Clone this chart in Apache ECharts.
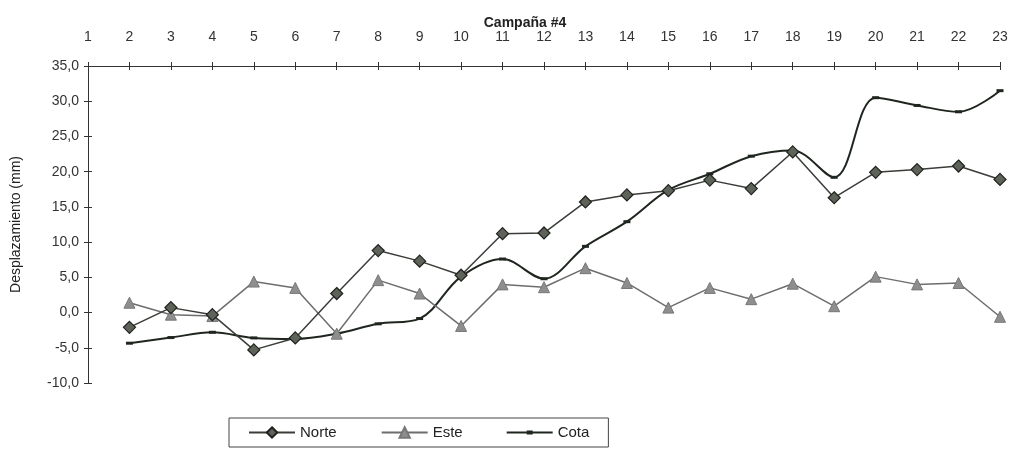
<!DOCTYPE html>
<html>
<head>
<meta charset="utf-8">
<script src="https://cdn.jsdelivr.net/npm/echarts@6/dist/echarts.min.js"></script>
<style>
  html, body { margin: 0; padding: 0; background: #ffffff; }
  #chart { width: 1016px; height: 449px; }
</style>
</head>
<body>
<div id="chart"></div>
<script>
const categories = ['1','2','3','4','5','6','7','8','9','10','11','12','13','14','15','16','17','18','19','20','21','22','23'];
const norte = [null, -2.1, 0.7, -0.3, -5.3, -3.6, 2.7, 8.8, 7.3, 5.3, 11.2, 11.3, 15.7, 16.7, 17.3, 18.8, 17.6, 22.8, 16.3, 19.9, 20.3, 20.8, 18.9];
const este = [null, 1.4, -0.3, -0.5, 4.4, 3.5, -3.0, 4.6, 2.7, -1.9, 4.0, 3.6, 6.3, 4.2, 0.7, 3.5, 1.9, 4.1, 0.9, 5.1, 4.0, 4.2, -0.6];
const cota = [null, -4.35, -3.55, -2.8, -3.6, -3.75, -3.0, -1.6, -0.85, 5.1, 7.6, 4.8, 9.4, 12.9, 17.4, 19.7, 22.2, 23.0, 19.2, 30.5, 29.4, 28.5, 31.5];
const yTitle = 'Desplazamiento (mm)';
const xTitle = 'Campaña #4';

const FONT = '"Liberation Sans", Arial, sans-serif';
const chart = echarts.init(document.getElementById('chart'));
const fmt = v => v.toFixed(1).replace('.', ',');

chart.setOption({
  animation: false,
  backgroundColor: '#ffffff',
  textStyle: { fontFamily: FONT },
  title: {
    text: xTitle,
    left: 520, top: 11, textAlign: 'center',
    textStyle: { fontSize: 14, fontWeight: 'bold', color: '#222', fontFamily: FONT }
  },
  legend: {
    left: 229, top: 418,
    padding: [7, 19, 7, 19],
    itemGap: 44, itemWidth: 46, itemHeight: 13,
    borderColor: '#444', borderWidth: 1,
    textStyle: { fontSize: 15, color: '#222', fontFamily: FONT },
    data: [
      { name: 'Norte' },
      { name: 'Este' },
      { name: 'Cota', icon: 'path://M0,1h46v2h-46z M20,0h6v4h-6z' }
    ]
  },
  grid: { left: 88, right: 16, top: 66, bottom: 66 },
  xAxis: [{
    type: 'category', data: categories, position: 'top', boundaryGap: false,
    axisLine: { onZero: false, lineStyle: { color: '#333', width: 1 } },
    axisTick: { show: true, length: 4, lineStyle: { color: '#333' } },
    axisLabel: { margin: 22, fontSize: 14, color: '#333', fontFamily: FONT },
    splitLine: { show: false }
  }, {
    type: 'category', data: categories, position: 'top', boundaryGap: false,
    axisLine: { show: false, onZero: false },
    axisTick: { show: true, inside: true, length: 4, lineStyle: { color: '#333' } },
    axisLabel: { show: false },
    splitLine: { show: false }
  }],
  yAxis: [{
    type: 'value', min: -10, max: 35, interval: 5,
    name: yTitle, nameLocation: 'middle', nameGap: 65, nameRotate: 90,
    nameTextStyle: { fontSize: 14, color: '#222', fontFamily: FONT },
    axisLine: { show: true, onZero: false, lineStyle: { color: '#333', width: 1 } },
    axisTick: { show: true, length: 4, lineStyle: { color: '#333' } },
    axisLabel: { margin: 9, fontSize: 14, color: '#333', formatter: fmt, fontFamily: FONT },
    splitLine: { show: false }
  }, {
    type: 'value', min: -10, max: 35, interval: 5, position: 'left',
    axisLine: { show: false, onZero: false },
    axisTick: { show: true, inside: true, length: 4, lineStyle: { color: '#333' } },
    axisLabel: { show: false },
    splitLine: { show: false }
  }],
  series: [{
    name: 'Cota', type: 'line', data: cota, smooth: 0.35,
    symbol: 'rect', symbolSize: [7, 3], z: 2,
    lineStyle: { color: '#1f261f', width: 2 },
    itemStyle: { color: '#1f261f' }
  }, {
    name: 'Este', type: 'line', data: este,
    symbol: 'triangle', symbolSize: 11, z: 3,
    lineStyle: { color: '#6d6d6d', width: 1.5 },
    itemStyle: { color: '#8e8e8e', borderColor: '#777', borderWidth: 1 }
  }, {
    name: 'Norte', type: 'line', data: norte,
    symbol: 'diamond', symbolSize: 12, z: 4,
    lineStyle: { color: '#3a3d38', width: 1.5 },
    itemStyle: { color: '#5d6358', borderColor: '#1e211d', borderWidth: 1.2 }
  }]
});
</script>
</body>
</html>
